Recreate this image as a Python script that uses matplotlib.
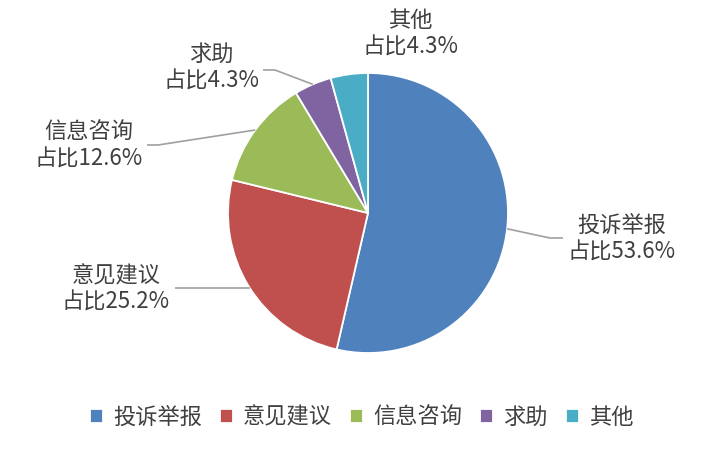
import matplotlib.pyplot as plt
import numpy as np

plt.rcParams['font.family'] = ['Noto Sans CJK SC', 'DejaVu Sans']

categories = ['投诉举报', '意见建议', '信息咨询', '求助', '其他']
shares = [53.6, 25.2, 12.6, 4.3, 4.3]
colors = ['#4F81BD', '#C0504D', '#9BBB59', '#8064A2', '#4BACC6']

W, H = 723, 459
CX, CY, R = 368, 213, 140   # pie centre / radius in pixels


def px(x, y):
    # pixel position -> data coords (pie radius = 1)
    return (x - CX) / R, (CY - y) / R


# label centres (px) and leader line elbow / end (px), None = no line
label_pos = [(622, 239), (116, 289), (89, 146), (211, 68), (410, 34)]
leader = [((550, 238), (563, 238)),
          ((230, 288), (175, 288)),
          ((158, 145), (147, 145)),
          ((275, 70), (263, 70)),
          None]

fig = plt.figure(figsize=(W / 100, H / 100), dpi=100)
ax = fig.add_axes([0, 0, 1, 1])
ax.set_aspect('equal')
ax.axis('off')

wedges, _ = ax.pie(shares, colors=colors, startangle=90, counterclock=False,
                   radius=1, center=(0, 0),
                   wedgeprops=dict(edgecolor='white', linewidth=1.3))
ax.set_xlim(-CX / R, (W - CX) / R)
ax.set_ylim(-(H - CY) / R, CY / R)

for w, cat, val, lp, ld in zip(wedges, categories, shares, label_pos, leader):
    mid = np.deg2rad((w.theta1 + w.theta2) / 2)
    x0, y0 = np.cos(mid), np.sin(mid)
    if ld is not None:
        (ex, ey), (tx, ty) = px(*ld[0]), px(*ld[1])
        if cat == '意见建议':
            ey = y0 = ty
            x0 = -np.sqrt(1 - y0 ** 2)
            ex = x0
        ax.plot([x0, ex, tx], [y0, ey, ty], color='#A0A0A0', lw=1.2,
                solid_capstyle='butt')
    lx, ly = px(*lp)
    ax.text(lx, ly, f'{cat}\n占比{val}%', ha='center', va='center',
            fontsize=16, color='#404040', linespacing=1.2)

fig.legend(wedges, categories, loc='center', bbox_to_anchor=(0.5, 1 - 417 / H),
           ncol=5, frameon=False, fontsize=16, labelcolor='#404040',
           handlelength=0.6, handleheight=0.6, handletextpad=0.45,
           columnspacing=0.8)

fig.savefig('out.png', dpi=100)
